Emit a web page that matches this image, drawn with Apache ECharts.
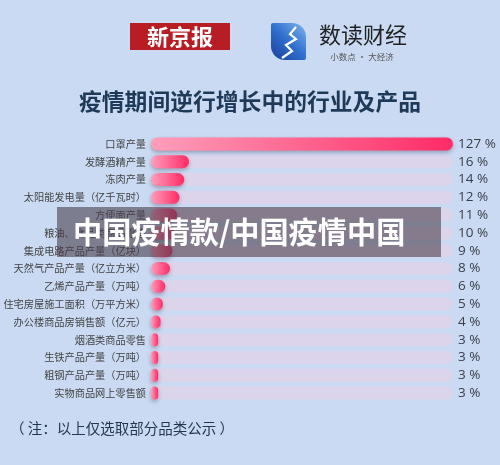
<!DOCTYPE html>
<html>
<head>
<meta charset="utf-8">
<script src="https://cdn.jsdelivr.net/npm/echarts@6/dist/echarts.min.js"></script>
<style>
html,body{margin:0;padding:0;background:#c9daf2;}
#chart{width:500px;height:465px;}
</style>
</head>
<body>
<div id="chart"></div>
<script>
var categories = ['口罩产量','发酵酒精产量','冻肉产量','太阳能发电量（亿千瓦时）','方便面产量','粮油、食品类商品零售','集成电路产品产量（亿块）','天然气产品产量（亿立方米）','乙烯产品产量（万吨）','住宅房屋施工面积（万平方米）','办公楼商品房销售额（亿元）','烟酒类商品零售','生铁产品产量（万吨）','粗钢产品产量（万吨）','实物商品网上零售额'];
var growth = [127,16,14,12,11,10,9,8,6,5,4,3,3,3,3];
var valueLabels = growth.map(function(v){return v + ' %';});
var titleText = '疫情期间逆行增长中的行业及产品';
var noteText = '（ 注：以上仅选取部分品类公示 ）';
var watermarkText = '中国疫情款/中国疫情中国';

var chart = echarts.init(document.getElementById('chart'));
var FONT = '"Noto Sans CJK SC","Noto Sans",sans-serif';
chart.setOption({
  backgroundColor: '#c9daf2',
  animation: false,
  textStyle: {fontFamily: FONT},
  grid: {left: 151, right: 47, top: 135, bottom: 63, containLabel: false},
  xAxis: {type: 'value', min: 0, max: 127, show: false},
  yAxis: [{
    type: 'category', inverse: true, data: categories,
    axisLine: {show: false}, axisTick: {show: false},
    axisLabel: {interval: 0, color: '#444', fontSize: 10.2, margin: 5, fontFamily: FONT}
  },{
    type: 'category', inverse: true, position: 'right', data: valueLabels,
    axisLine: {show: false}, axisTick: {show: false},
    axisLabel: {interval: 0, color: '#3a3f4a', fontSize: 13.5, margin: 5, fontFamily: '"Open Sans","Noto Sans",sans-serif'}
  }],
  series: [{
    type: 'bar', data: growth, barWidth: 13, yAxisIndex: 0,
    showBackground: true,
    backgroundStyle: {color: '#dcd4ea', borderRadius: 6.5},
    itemStyle: {
      borderRadius: 6.5,
      color: new echarts.graphic.LinearGradient(0,0,1,0,[{offset:0,color:'#ff9ebb'},{offset:1,color:'#ff2b66'}]),
      shadowBlur: 4, shadowColor: 'rgba(60,30,60,0.35)', shadowOffsetY: 2
    }
  }],
  graphic: [
    {type:'rect', shape:{x:130,y:23,width:100,height:27}, style:{fill:'#b81d24'}},
    {type:'text', style:{x:180,y:36.5,text:'新京报',fill:'#fff',font:'bold 22px "Noto Sans CJK SC"',align:'center',verticalAlign:'middle'}},
    {type:'rect', shape:{x:271,y:23,width:35,height:37,r:[2,14,2,14]},
      style:{fill:new echarts.graphic.LinearGradient(1,0,0,1,[{offset:0,color:'#7fb6ec'},{offset:0.5,color:'#2f6fcf'},{offset:1,color:'#1a3f9a'}])}},
    {type:'polyline', shape:{points:[[296,27],[290,34],[296,39],[286,45],[292,51],[282,58]]}, style:{stroke:'#ffffff',lineWidth:2.2,fill:null}},
    {type:'text', style:{x:363,y:35,text:'数读财经',fill:'#222',font:'22px "Noto Sans CJK SC"',align:'center',verticalAlign:'middle'}},
    {type:'text', style:{x:362,y:57,text:'小数点 · 大经济',fill:'#555',font:'8.5px "Noto Sans CJK SC"',align:'center',verticalAlign:'middle'}},
    {type:'text', style:{x:250,y:101,text:titleText,fill:'#1f3a58',font:'bold 22.8px "Noto Sans CJK SC"',align:'center',verticalAlign:'middle'}},
    {type:'text', style:{x:10,y:428,text:noteText,fill:'#23384f',font:'14.5px "Noto Sans CJK SC"',align:'left',verticalAlign:'middle'}},
    {type:'rect', z:100, shape:{x:57,y:207,width:384,height:50}, style:{fill:'rgba(70,58,72,0.58)'}},
    {type:'text', z:101, style:{x:73,y:232,text:watermarkText,fill:'#ffffff',font:'bold 29.2px "Noto Sans CJK SC"',align:'left',verticalAlign:'middle'}}
  ]
});
</script>
</body>
</html>
